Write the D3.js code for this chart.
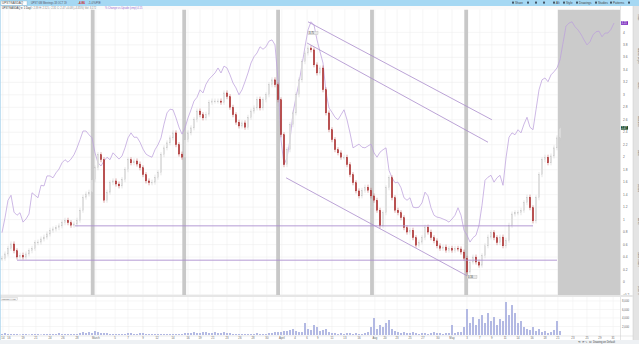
<!DOCTYPE html>
<html><head><meta charset="utf-8">
<script src="https://cdn.jsdelivr.net/npm/d3@7.9.0/dist/d3.min.js"></script>
<style>
html,body{margin:0;padding:0;background:#fff;overflow:hidden}
svg{display:block;font-family:"Liberation Sans",Arial,sans-serif}
</style></head><body>
<svg id="chart" width="639" height="344"></svg>
<script>
// daily closes (candles), one per session
const closes = [
  0.38,0.45,0.54,0.61,0.50,0.40,0.43,0.40,0.45,0.50,0.54,0.63,0.64,0.69,0.72,0.77,0.83,0.85,0.87,0.90,
  0.95,0.99,0.95,0.91,0.93,0.99,1.15,1.36,1.41,1.44,1.64,1.83,2.04,1.96,1.31,1.44,1.59,1.62,1.57,1.54,
  1.64,1.80,1.96,1.91,1.94,1.89,1.83,1.72,1.62,1.59,1.60,1.68,1.75,2.04,2.15,2.23,2.31,2.39,2.20,2.05,
  2.00,2.28,2.39,2.47,2.60,2.74,2.68,2.63,2.69,2.88,2.90,2.90,2.90,2.88,3.03,2.97,2.80,2.68,2.56,2.50,
  2.55,2.48,2.64,2.74,2.79,2.93,2.79,2.92,3.00,3.16,3.24,3.16,2.92,2.36,1.88,2.12,2.52,2.71,3.00,3.24,
  3.53,3.67,3.75,3.72,3.48,3.35,3.43,3.08,2.71,2.44,2.28,2.12,2.07,2.00,2.00,1.88,1.72,1.59,1.46,1.38,
  1.47,1.52,1.47,1.38,1.31,1.15,0.90,1.11,1.51,1.67,1.35,1.15,1.11,1.03,0.87,0.80,0.83,0.71,0.59,0.64,
  0.71,0.88,0.80,0.71,0.66,0.58,0.54,0.56,0.51,0.54,0.51,0.54,0.53,0.48,0.38,0.16,0.32,0.40,0.32,0.27,
  0.42,0.58,0.72,0.79,0.71,0.63,0.72,0.58,0.67,0.91,1.09,1.11,1.11,1.15,1.27,1.36,1.19,0.98,1.35,1.72,
  1.96,2.00,1.91,2.02,2.15,2.31,2.47
];
// comparison symbol (purple line), extends into the shaded session
const compare = [
  0.79,1.03,1.31,1.39,1.12,1.07,1.11,0.96,1.01,1.09,1.43,1.39,1.35,1.55,1.54,1.70,1.70,1.67,1.75,1.81,
  1.91,1.96,1.92,1.97,2.04,2.15,2.28,2.42,2.42,2.36,2.31,2.07,1.91,1.86,1.94,2.00,1.96,2.07,2.02,1.97,
  2.02,2.15,2.31,2.39,2.32,2.32,2.24,2.13,2.05,2.02,2.00,2.12,2.20,2.31,2.53,2.71,2.77,2.76,2.63,2.48,
  2.37,2.47,2.63,2.76,2.90,2.96,3.08,3.03,3.17,3.25,3.30,3.35,3.43,3.35,3.46,3.43,3.32,3.19,3.11,3.00,
  3.08,3.21,3.35,3.51,3.61,3.67,3.77,3.73,3.77,3.86,3.88,3.80,3.24,2.28,1.88,1.99,2.28,2.71,2.96,3.19,
  3.48,3.77,4.04,4.17,4.12,3.88,3.69,3.51,3.04,2.79,2.72,2.64,2.60,2.68,2.76,2.60,2.39,2.15,2.18,2.21,
  2.16,2.15,2.18,2.21,2.07,2.00,2.08,2.12,2.15,1.79,1.67,1.59,1.60,1.51,1.35,1.31,1.35,1.20,1.19,1.20,
  1.27,1.44,1.38,1.19,1.07,1.04,1.03,1.01,0.99,0.96,1.01,1.07,1.19,1.07,0.83,0.75,0.64,0.71,0.75,0.91,
  1.23,1.63,1.68,1.71,1.60,1.67,1.71,1.55,1.99,2.32,2.39,2.36,2.44,2.39,2.53,2.64,2.48,2.44,2.76,3.08,
  3.24,3.27,3.21,3.32,3.37,3.43,3.56,3.83,4.10,4.15,4.17,4.09,4.04,3.97,3.88,3.80,3.85,3.96,4.01,4.02,
  3.93,3.99,3.99,4.05,4.15
];
const volumes = [
  240,470,240,240,240,240,120,240,240,120,240,240,240,120,240,240,240,240,240,470,
  240,240,240,240,240,240,470,700,470,700,470,940,700,470,470,470,240,240,240,240,
  240,240,470,470,240,240,470,470,240,240,240,240,240,240,240,240,240,240,240,240,
  240,470,470,470,700,470,470,700,700,470,470,700,470,470,700,470,470,240,240,240,
  240,240,240,240,240,470,240,240,240,470,470,700,700,700,940,940,1180,1410,940,700,
  700,2820,1410,1180,2350,1880,940,1180,1410,700,470,470,240,470,240,470,470,240,470,240,
  240,470,700,1880,4000,1410,2350,1880,2820,3530,1410,940,700,470,700,470,470,700,470,240,
  470,470,240,470,700,470,470,240,470,470,2350,470,700,700,1880,6110,2820,4230,2350,3760,
  4700,2820,5170,3290,4230,2350,3760,3290,7760,4700,7050,5170,2820,3290,1880,1410,1180,1880,940,1410,
  700,940,470,700,1180,3290,940
];
// gray session markers and the shaded session at the right
const markerDays = [30.2, 60.7, 92, 123.3, 154.7];
const shadedFrom = 185.3;
// drawn levels and channel
const levels = [
  { from: 24.3, to: 177, value: 0.90 },
  { from: 5, to: 185, value: 0.35 }
];
const channel = [
  { from: [102, 4.17], to: [163.3, 2.60] },
  { from: [101.7, 3.83], to: [162, 2.24] },
  { from: [94.7, 1.67], to: [155, 0.10] }
];
const priceTicks = [-0.2,0,0.2,0.4,0.6,0.8,1,1.2,1.4,1.6,1.8,2,2.2,2.4,2.6,2.8,3,3.2,3.4,3.6,3.8,4];
const volumeTicks = [2000, 4000, 6000, 8000];
const dateTicks = [0.3,2.3,7,11.3,16,20.3,25,31.3,37.7,42,47,51.7,57,62,66,70.3,75,79.3,83.7,88.3,
  93.3,97.7,101.7,105.3,110,114.3,119,124.3,127.7,131.7,136,140.3,145.3,150,155,159.3,163.3,167.7,
  172,176.7,181,185.3,190.3,195,199.3,203.7];
const dateLabels = ['14','16','19','21','24','26','28','March','5','7','9','12','14','16','19','21','23',
  '26','28','30','April','4','6','9','11','13','16','Aug','20','23','25','27','30','May','3','7','9','11',
  '14','16','18','21','23','25','29','31'];

const svg = d3.select('#chart');
const W = 639, H = 344;
const paneRight = 620;

const x = d3.scaleLinear().domain([0, 206]).range([2, 620]);
const y = d3.scaleLinear().domain([-0.208, 4.375]).range([295, 9]);
const yv = d3.scaleLinear().domain([0, 8000]).range([335, 301]);

// ---------- chrome ----------
svg.append('rect').attr('width', W).attr('height', H).attr('fill', '#fff');

// top toolbar
svg.append('rect').attr('x', 0).attr('y', 0).attr('width', W).attr('height', 6).attr('fill', '#a5d8f3');
svg.append('rect').attr('x', 1).attr('y', 1).attr('width', 26).attr('height', 4.2)
  .attr('fill', '#fff').attr('stroke', '#8ab').attr('stroke-width', 0.3);
const tb = svg.append('g').attr('font-size', 3).attr('fill', '#444');
tb.append('text').attr('x', 2).attr('y', 4.2).text('UPST:NASDAQ');
tb.append('text').attr('x', 31).attr('y', 4.2).attr('font-size', 2.6).attr('fill', '#556').text('UPST 6M Meetings 18 OCT 19');
tb.append('text').attr('x', 78).attr('y', 4.2).attr('fill', '#c22').attr('font-weight', 'bold').text('-4.86');
tb.append('text').attr('x', 88).attr('y', 4.2).attr('fill', '#556').text('-1.0%');
tb.append('text').attr('x', 96).attr('y', 4.2).attr('fill', '#556').text('P/E');
const tools = [['Share', 515], ['', 530], ['', 538], ['', 546], ['Alt', 556], ['Style', 566], ['Drawings', 579],
  ['Studies', 598], ['Patterns', 613], ['', 631]];
tools.forEach(([t, tx]) => {
  svg.append('rect').attr('x', tx - 3).attr('y', 1.6).attr('width', 2).attr('height', 2).attr('fill', '#456');
  if (t) tb.append('text').attr('x', tx).attr('y', 4.2).text(t);
});

// legend row
svg.append('rect').attr('x', 0).attr('y', 6).attr('width', 620).attr('height', 3.5).attr('fill', '#fafafa');
const lg = svg.append('g').attr('font-size', 2.6).attr('fill', '#555');
lg.append('text').attr('x', 2).attr('y', 8.6).attr('fill', '#333').text('UPST:NASDAQ ▾ 1 Day');
lg.append('text').attr('x', 30).attr('y', 8.6).attr('fill', '#888')
  .text('O: 2.39  H: 2.52  L: 2.31  C: 2.47  +0.08 (+3.35%)  Vol: 3,172');
lg.append('text').attr('x', 105).attr('y', 8.6).attr('fill', '#9a6ad0').text('% Change vs Upside (cmp) 4.15');

// right axis + sidebar
svg.append('rect').attr('x', 633).attr('y', 6).attr('width', 6).attr('height', 334).attr('fill', '#e4e4e4');
svg.append('line').attr('x1', 633).attr('x2', 633).attr('y1', 6).attr('y2', 340).attr('stroke', '#c8c8c8').attr('stroke-width', 0.5);
const sideTabs = ['Trade', 'Market Depth', 'News', 'Watchlist', 'Data', 'Details', 'Alerts', 'Chart Trader', 'Level II'];
sideTabs.forEach((t, k) => {
  svg.append('text').attr('transform', `translate(637.5, ${14 + k * 34}) rotate(90)`)
    .attr('font-size', 2.6).attr('fill', '#666').text(t);
});

// ---------- main pane ----------
const main = svg.append('g');
main.append('clipPath').attr('id', 'clipMain').append('rect')
  .attr('x', 0).attr('y', 9.5).attr('width', paneRight).attr('height', 285.5);

const grid = main.append('g').attr('stroke', '#efefef').attr('stroke-width', 0.6);
grid.selectAll('line.h').data(priceTicks).join('line')
  .attr('x1', 0).attr('x2', paneRight).attr('y1', d => y(d)).attr('y2', d => y(d));
grid.selectAll('line.v').data(dateTicks).join('line')
  .attr('x1', d => x(d)).attr('x2', d => x(d)).attr('y1', 9.5).attr('y2', 295);

const layer = main.append('g').attr('clip-path', 'url(#clipMain)');

// shaded session
layer.append('rect').attr('x', x(shadedFrom)).attr('y', 9.5)
  .attr('width', paneRight - x(shadedFrom)).attr('height', 285.5).attr('fill', '#cbcbcb');

// marker bands
layer.selectAll('rect.band').data(markerDays).join('rect')
  .attr('x', d => x(d) - 1.8).attr('y', 9.5).attr('width', 3.8).attr('height', 285.5).attr('fill', '#c8c8c8');

// comparison line
layer.append('path').datum(compare)
  .attr('fill', 'none').attr('stroke', '#bca0dc').attr('stroke-width', 0.75)
  .attr('d', d3.line().x((d, i) => x(i)).y(d => y(d)));

// candles
const candles = closes.map((c, i) => ({ i, open: i ? closes[i - 1] : c, close: c }));
const cg = layer.append('g');
cg.selectAll('line').data(candles).join('line')
  .attr('x1', d => x(d.i)).attr('x2', d => x(d.i))
  .attr('y1', d => y(Math.max(d.open, d.close)) - 2.5)
  .attr('y2', d => y(Math.min(d.open, d.close)) + 2.5)
  .attr('stroke', d => d.close < d.open ? '#b85050' : '#cacaca').attr('stroke-width', 0.5);
cg.selectAll('rect').data(candles).join('rect')
  .attr('x', d => x(d.i) - 0.7).attr('width', 1.4)
  .attr('y', d => y(Math.max(d.open, d.close)))
  .attr('height', d => Math.max(0.8, Math.abs(y(d.open) - y(d.close))))
  .attr('fill', d => d.close < d.open ? '#ad3434' : '#f2f2f2')
  .attr('stroke', d => d.close < d.open ? '#ad3434' : '#c2c2c2').attr('stroke-width', 0.35);

// levels and channel
layer.selectAll('line.level').data(levels).join('line')
  .attr('x1', d => x(d.from)).attr('x2', d => x(d.to))
  .attr('y1', d => y(d.value)).attr('y2', d => y(d.value))
  .attr('stroke', '#ad8fcf').attr('stroke-width', 0.9);
layer.selectAll('line.chan').data(channel).join('line')
  .attr('x1', d => x(d.from[0])).attr('x2', d => x(d.to[0]))
  .attr('y1', d => y(d.from[1])).attr('y2', d => y(d.to[1]))
  .attr('stroke', '#a98bcc').attr('stroke-width', 0.8);

// high / low tags
const hiI = d3.maxIndex(closes), loI = d3.minIndex(closes);
[[hiI, closes[hiI], -14], [loI, closes[loI], 6]].forEach(([i, v, dy]) => {
  const tx = x(i), ty = y(v) + dy;
  layer.append('rect').attr('x', tx).attr('y', ty - 2.6).attr('width', 10).attr('height', 3.4)
    .attr('fill', '#e9e9e9').attr('stroke', '#aaa').attr('stroke-width', 0.3);
  layer.append('text').attr('x', tx + 1).attr('y', ty).attr('font-size', 2.6).attr('fill', '#444').text(v.toFixed(2));
});

// price axis
svg.append('line').attr('x1', paneRight + 0.5).attr('x2', paneRight + 0.5).attr('y1', 6).attr('y2', 340)
  .attr('stroke', '#d4d4d4').attr('stroke-width', 0.6);
const pa = svg.append('g').attr('font-size', 3.2).attr('fill', '#666');
pa.selectAll('text').data(priceTicks).join('text')
  .attr('x', 623).attr('y', d => y(d) + 1.1).text(d => d3.format('~g')(d));
// last value tags
svg.append('rect').attr('x', 621).attr('y', y(compare[compare.length - 1]) - 1.8).attr('width', 7).attr('height', 3.6).attr('fill', '#7b2bbf');
svg.append('rect').attr('x', 621).attr('y', y(closes[closes.length - 1]) - 1.8).attr('width', 7).attr('height', 3.6).attr('fill', '#1c4a2c');
svg.append('text').attr('x', 621.6).attr('y', y(compare[compare.length - 1]) + 1).attr('font-size', 2.6).attr('fill', '#fff').text(compare[compare.length - 1].toFixed(2));
svg.append('text').attr('x', 621.6).attr('y', y(closes[closes.length - 1]) + 1).attr('font-size', 2.6).attr('fill', '#fff').text(closes[closes.length - 1].toFixed(2));

// pane divider
svg.append('rect').attr('x', 0).attr('y', 295).attr('width', 633).attr('height', 2).attr('fill', '#e6e6e6');

// ---------- volume pane ----------
const vg = svg.append('g');
vg.selectAll('line.h').data(volumeTicks).join('line')
  .attr('x1', 0).attr('x2', paneRight).attr('y1', d => yv(d)).attr('y2', d => yv(d))
  .attr('stroke', '#f0f0f0').attr('stroke-width', 0.6);
vg.selectAll('line.v').data(dateTicks).join('line')
  .attr('x1', d => x(d)).attr('x2', d => x(d)).attr('y1', 297).attr('y2', 336)
  .attr('stroke', '#f0f0f0').attr('stroke-width', 0.6);
vg.selectAll('rect').data(volumes).join('rect')
  .attr('x', (d, i) => x(i) - 0.9).attr('width', 1.8)
  .attr('y', d => yv(d)).attr('height', d => yv(0) - yv(d))
  .attr('fill', '#abb2e0');
vg.append('rect').attr('x', 0.5).attr('y', 297.4).attr('width', 17).attr('height', 3)
  .attr('fill', '#f4f4f4').attr('stroke', '#bbb').attr('stroke-width', 0.3);
vg.append('text').attr('x', 1.5).attr('y', 299.8).attr('font-size', 2.4).attr('fill', '#555').text('Volume  ×  Vol');
vg.selectAll('text.vt').data(volumeTicks).join('text')
  .attr('x', 622).attr('y', d => yv(d) + 1).attr('font-size', 2.8).attr('fill', '#666')
  .text(d => d3.format(',')(d));

// date axis
svg.append('line').attr('x1', 0).attr('x2', 633).attr('y1', 336).attr('y2', 336).attr('stroke', '#d0d0d0').attr('stroke-width', 0.5);
svg.append('g').attr('font-size', 2.8).attr('fill', '#666')
  .selectAll('text').data(dateTicks).join('text')
  .attr('x', d => x(d)).attr('y', 339).attr('text-anchor', 'middle')
  .text((d, k) => dateLabels[k]);

// status bar
svg.append('rect').attr('x', 0).attr('y', 340).attr('width', W).attr('height', 4).attr('fill', '#eef1f4');
svg.append('text').attr('x', 578).attr('y', 342.8).attr('font-size', 2.6).attr('fill', '#444').text('⟲ ⟳  ✎  ⊡ Drawing on Default');

// window border on the left
svg.append('line').attr('x1', 0.4).attr('x2', 0.4).attr('y1', 6).attr('y2', 340).attr('stroke', '#a9d3ec').attr('stroke-width', 0.8);
</script>
</body></html>
